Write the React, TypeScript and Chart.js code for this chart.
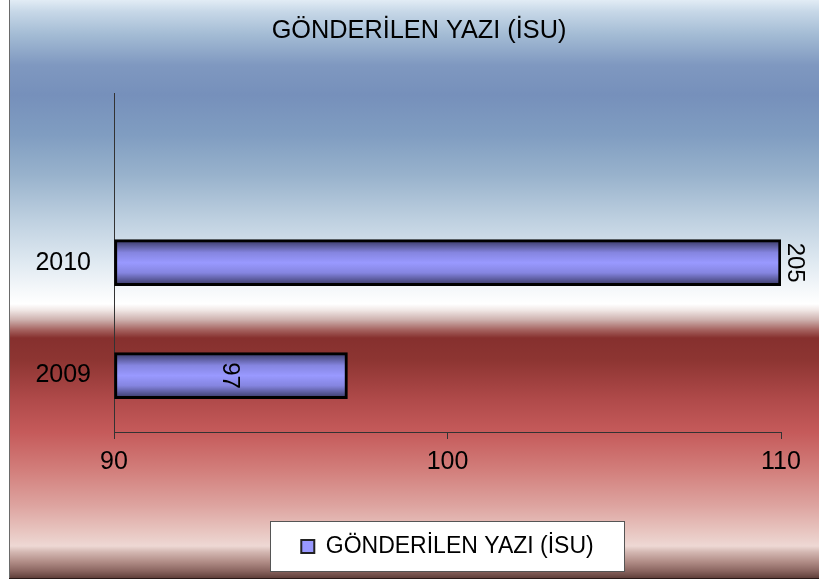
import React, { useEffect, useRef } from 'react';
import { Chart, registerables } from 'chart.js';

Chart.register(...registerables);

// ---- data ----
const TITLE = 'GÖNDERİLEN YAZI (İSU)';
const SERIES_NAME = 'GÖNDERİLEN YAZI (İSU)';
const categories = ['2009', '2010', ''];
const values: (number | null)[] = [97, 205, null];
const xTicks = [90, 100, 110];
const X_MIN = 90;
const X_MAX = 110;

// ---- styles ----
const W = 810;
const H = 579;
const FONT = "'Liberation Sans', Arial, sans-serif";
const BG_STOPS: [number, string][] = [
  [0, '#e2ecf5'],
  [12, '#c6d7e7'],
  [35, '#a3bbd4'],
  [65, '#7f98c0'],
  [95, '#7690bb'],
  [135, '#809dc1'],
  [175, '#98b2cc'],
  [220, '#bed0e0'],
  [262, '#dfe9f1'],
  [292, '#f7f9fb'],
  [304, '#ffffff'],
  [310, '#f1e8e6'],
  [320, '#cdb0ad'],
  [330, '#a5625f'],
  [338, '#86302e'],
  [360, '#8d3532'],
  [400, '#b04a4a'],
  [432, '#c55a5a'],
  [470, '#d27e7b'],
  [505, '#dda39f'],
  [532, '#e8c6c1'],
  [546, '#eed8d4'],
  [552, '#d3b7b2'],
  [562, '#b08c86'],
  [571, '#8a6560'],
  [579, '#5a3a35'],
];

const bgPlugin = {
  id: 'bgPlugin',
  afterLayout(chart: any) {
    // let the category labels extend to the left of the (narrow) y-axis box
    if (chart.scales && chart.scales.y) chart.scales.y.left = 0;
  },
  beforeDraw(chart: any) {
    const { ctx, width, height } = chart;
    ctx.save();
    const g = ctx.createLinearGradient(0, 0, 0, height);
    BG_STOPS.forEach(([y, c]) => g.addColorStop(Math.min(1, y / H), c));
    ctx.fillStyle = g;
    ctx.fillRect(0, 0, width, height);
    // borders (left + bottom)
    ctx.fillStyle = '#6a6a6a';
    ctx.fillRect(0, 0, 1, height);
    ctx.fillStyle = '#2a1a18';
    ctx.fillRect(0, height - 1, width, 1);
    // legend white box
    const lg = chart.legend;
    if (lg && lg.legendHitBoxes && lg.legendHitBoxes.length) {
      const hb = lg.legendHitBoxes[0];
      const cx = (lg.left + lg.right) / 2;
      const cy = hb.top + hb.height / 2;
      const bw = 355;
      const bh = 51;
      const x0 = Math.round(cx - bw / 2);
      const y0 = Math.round(cy - bh / 2);
      ctx.fillStyle = '#ffffff';
      ctx.fillRect(x0, y0, bw, bh);
      ctx.strokeStyle = '#555555';
      ctx.lineWidth = 1;
      ctx.strokeRect(x0 + 0.5, y0 + 0.5, bw - 1, bh - 1);
    }
    ctx.restore();
  },
};

const labelPlugin = {
  id: 'labelPlugin',
  afterDatasetsDraw(chart: any) {
    const { ctx } = chart;
    const meta = chart.getDatasetMeta(0);
    ctx.save();
    ctx.font = `24px ${FONT}`;
    ctx.fillStyle = '#000';
    ctx.textAlign = 'center';
    ctx.textBaseline = 'middle';
    meta.data.forEach((el: any, i: number) => {
      const v = values[i];
      if (v == null) return;
      const x = v > X_MAX ? el.x + 15 : (el.x + el.base) / 2;
      ctx.save();
      ctx.translate(x, el.y);
      ctx.rotate(Math.PI / 2);
      ctx.fillText(String(v), 0, 1);
      ctx.restore();
    });
    ctx.restore();
  },
};

export default function App() {
  const ref = useRef<HTMLCanvasElement | null>(null);

  useEffect(() => {
    if (!ref.current) return;
    const chart = new Chart(ref.current, {
      type: 'bar',
      data: {
        labels: categories,
        datasets: [
          {
            label: SERIES_NAME,
            data: values.map((v) => (v == null ? null : Math.min(v, X_MAX))),
            base: X_MIN,
            barThickness: 46,
            borderColor: '#000000',
            borderWidth: 3,
            borderSkipped: false,
            backgroundColor: (c: any) => {
              const chart = c.chart;
              const ys = chart.scales && chart.scales.y;
              if (!chart.chartArea || !ys || c.type !== 'data') return '#9999ff';
              const y = ys.getPixelForValue(c.dataIndex);
              const g = chart.ctx.createLinearGradient(0, y - 23, 0, y + 23);
              g.addColorStop(0, '#35355f');
              g.addColorStop(0.28, '#8585e0');
              g.addColorStop(0.5, '#9999ff');
              g.addColorStop(0.72, '#8585e0');
              g.addColorStop(1, '#35355f');
              return g;
            },
          } as any,
        ],
      },
      options: {
        indexAxis: 'y',
        animation: false,
        responsive: false,
        layout: { padding: { left: 48, right: 38, top: 0, bottom: 11 } },
        scales: {
          x: {
            type: 'linear',
            min: X_MIN,
            max: X_MAX,
            afterBuildTicks: (s: any) => {
              s.ticks = xTicks.map((v) => ({ value: v }));
            },
            afterFit: (s: any) => {
              s.height = 93;
            },
            grid: { drawOnChartArea: false, drawTicks: true, tickLength: 7, color: '#333333' },
            border: { display: true, color: '#333333', width: 1 },
            ticks: { font: { family: FONT, size: 25 }, color: '#000', padding: 8 },
          },
          y: {
            type: 'category',
            reverse: true,
            afterFit: (s: any) => {
              s.width = 57;
            },
            grid: { display: false },
            border: { display: true, color: '#333333', width: 1 },
            ticks: { font: { family: FONT, size: 25 }, color: '#000', padding: 15 },
          },
        },
        plugins: {
          title: {
            display: true,
            text: TITLE,
            color: '#000',
            font: { family: FONT, size: 25.3, weight: 'normal' as any, lineHeight: 1.2 },
            padding: { top: 16, bottom: 47 },
          },
          legend: {
            display: true,
            position: 'bottom',
            fullSize: false,
            labels: {
              font: { family: FONT, size: 23 },
              color: '#000',
              boxWidth: 13,
              boxHeight: 13,
              padding: 10,
              generateLabels: () => [
                {
                  text: SERIES_NAME,
                  fillStyle: '#9999ff',
                  strokeStyle: '#222222',
                  lineWidth: 2,
                  hidden: false,
                  datasetIndex: 0,
                } as any,
              ],
            },
          },
          tooltip: { enabled: false },
        },
      } as any,
      plugins: [bgPlugin, labelPlugin],
    });
    return () => chart.destroy();
  }, []);

  return (
    <div style={{ position: 'absolute', left: 9, top: 0, width: W, height: H }}>
      <canvas ref={ref} width={W} height={H} style={{ display: 'block' }} />
    </div>
  );
}
